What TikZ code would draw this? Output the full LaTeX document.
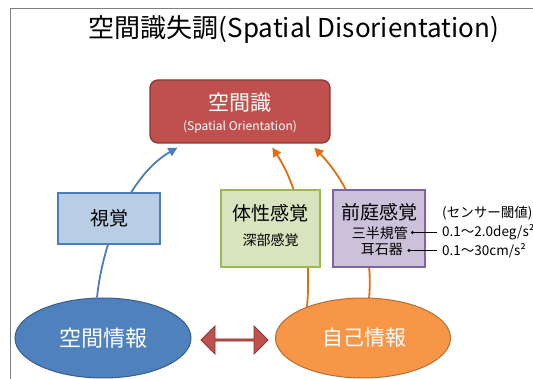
\documentclass[tikz,border=0pt]{standalone}
\usepackage{fontspec}
\setmainfont{Noto Sans CJK JP}
\usetikzlibrary{shapes.arrows,shapes.geometric,arrows.meta,calc}
\definecolor{redfill}{HTML}{C0504D}
\definecolor{redline}{HTML}{8C3836}
\definecolor{bluebox}{HTML}{B9CDE5}
\definecolor{blueline}{HTML}{4A7EBB}
\definecolor{bluefill}{HTML}{4F81BD}
\definecolor{bluedark}{HTML}{385D8A}
\definecolor{greenbox}{HTML}{D7E4BD}
\definecolor{greenline}{HTML}{98B954}
\definecolor{purplebox}{HTML}{CCC1DA}
\definecolor{purpleline}{HTML}{8064A2}
\definecolor{orangefill}{HTML}{F79646}
\definecolor{orangedark}{HTML}{B66D31}
\definecolor{orangeline}{HTML}{E46C0A}
\definecolor{framecol}{HTML}{7F7F7F}
\begin{document}
\begin{tikzpicture}[x=1pt,y=-1pt,
  boxbase/.style={draw, line width=1.3pt, inner sep=0pt},
  conn/.style={line width=1.8pt, -{Triangle[length=9pt,width=9pt]}},
  txt/.style={inner sep=0pt, anchor=center},
]
\useasboundingbox (0,0) rectangle (533,379);
\draw[framecol, line width=1.6pt] (10.5,379) -- (10.5,8.5) -- (533,8.5);

\node[txt] (title) at (294,30) {\fontsize{26}{30}\selectfont 空間識失調(Spatial Disorientation)};

% shapes
\node[boxbase, draw=redline, fill=redfill, rounded corners=8pt, minimum width=180pt, minimum height=63pt] (red) at (240,111.5) {};
\node[txt, text=white] (redt) at (240,103) {\fontsize{21}{24}\selectfont 空間識};
\node[txt, text=white] (reds) at (240,127) {\fontsize{12}{14}\selectfont (Spatial Orientation)};

\node[draw=bluedark, fill=bluefill, ellipse, line width=1pt, minimum width=176pt, minimum height=80pt, inner sep=0pt] (si) at (103,338) {};
\node[txt, text=white] (sit) at (103,338) {\fontsize{22}{24}\selectfont 空間情報};
\node[draw=orangedark, fill=orangefill, ellipse, line width=1pt, minimum width=175pt, minimum height=80pt, inner sep=0pt] (ji) at (363,338) {};
\node[txt, text=white] (jit) at (364,338) {\fontsize{21}{24}\selectfont 自己情報};

% connectors
\coordinate (b0) at ($(si.north)+(-6,0)$);
\coordinate (b1) at ($(red.south west)+(28,4)$);
\draw[conn, blueline] (b0) .. controls (103,240) and (130,175) .. (b1);
\coordinate (o0) at (307,307);
\coordinate (o1) at ($(red.south west)+(123,4)$);
\draw[conn, orangeline] (o0) .. controls (312,250) and (300,190) .. (o1);
\coordinate (p0) at (369,298.5);
\coordinate (p1) at ($(red.south west)+(165,4)$);
\draw[conn, orangeline] (p0) .. controls (374,250) and (355,190) .. (p1);

% boxes
\node[boxbase, draw=blueline, fill=bluebox, minimum width=102pt, minimum height=51pt] (vis) at (109,218.5) {};
\node[txt] (vist) at (109,218.5) {\fontsize{19}{22}\selectfont 視覚};

\node[boxbase, draw=greenline, fill=greenbox, minimum width=99pt, minimum height=77pt] (som) at (270.5,228.5) {};
\node[txt] (somt) at (270.5,213) {\fontsize{19}{22}\selectfont 体性感覚};
\node[txt] (soms) at (270.5,240) {\fontsize{14}{16}\selectfont 深部感覚};

\node[boxbase, draw=purpleline, fill=purplebox, minimum width=92pt, minimum height=77pt] (ves) at (379,228.5) {};
\node[txt] (vest) at (379,212) {\fontsize{19}{22}\selectfont 前庭感覚};
\node[txt, anchor=east] (scc) at (408,233) {\fontsize{14}{16}\selectfont 三半規管};
\node[txt, anchor=east] (oto) at (403,250) {\fontsize{14}{16}\selectfont 耳石器};

% sensor thresholds
\node[txt, anchor=west] (th) at (442,213) {\fontsize{13.5}{16}\selectfont (センサー閾値)};
\node[txt, anchor=west] (th1) at (442,232.5) {\fontsize{13.5}{16}\selectfont 0.1～2.0deg/s²};
\node[txt, anchor=west] (th2) at (442,250.5) {\fontsize{13.5}{16}\selectfont 0.1～30cm/s²};
\fill (412.5,232.5) circle (1.7pt) coordinate (d1);
\fill (409,250.5) circle (1.7pt) coordinate (d2);
\draw[line width=0.8pt] (d1) -- ($(th1.west)+(-5,0)$);
\draw[line width=0.8pt] (d2) -- ($(th2.west)+(-5,0)$);

% double arrow
\node[double arrow, draw=redline, fill=redfill, line width=0.8pt, minimum height=67pt, minimum width=28pt, double arrow head extend=5pt, inner sep=0pt] (da) at (234.5,340) {};
\end{tikzpicture}
\end{document}
